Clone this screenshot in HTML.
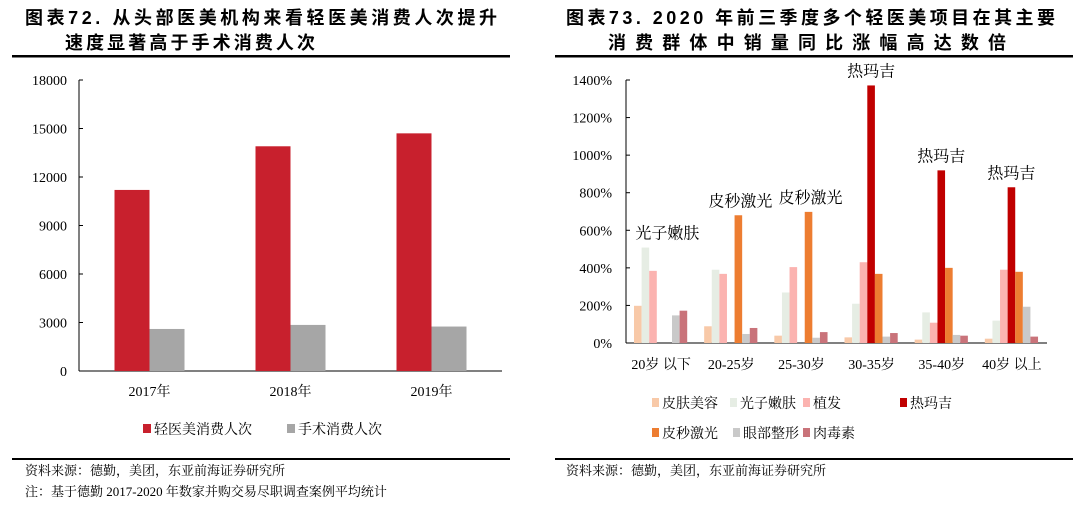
<!DOCTYPE html>
<html><head><meta charset="utf-8"><style>
body{margin:0;background:#fff;width:1080px;height:505px;overflow:hidden;font-family:"Liberation Serif","Noto Serif CJK SC",serif;}
svg{display:block}
.t{font-family:"Liberation Sans","Noto Sans CJK SC",sans-serif;font-weight:bold;font-size:18px;fill:#000}
.s{font-size:13px;fill:#000;font-family:"Liberation Serif","Noto Serif CJK SC",serif}
</style></head><body>
<svg id="svg" width="1080" height="505">
<g>
<text class="t" x="25" y="24" textLength="472" lengthAdjust="spacing">图表72. 从头部医美机构来看轻医美消费人次提升</text>
<text class="t" x="65" y="49" textLength="250" lengthAdjust="spacing">速度显著高于手术消费人次</text>
</g>
<rect x="12" y="55" width="498" height="2.5" fill="#000"/>
<g>
<text class="t" x="566" y="24" textLength="489" lengthAdjust="spacing">图表73. 2020 年前三季度多个轻医美项目在其主要</text>
<text class="t" x="608" y="49" textLength="398" lengthAdjust="spacing">消费群体中销量同比涨幅高达数倍</text>
</g>
<rect x="555" y="55" width="518" height="2.5" fill="#000"/>
<g id="left"></g>
<g id="right"></g>
<rect x="12" y="458" width="498" height="2" fill="#000"/>
<rect x="555" y="458" width="518" height="2" fill="#000"/>
<text class="s" x="25" y="475">资料来源：德勤，美团，东亚前海证券研究所</text>
<text class="s" x="25" y="496">注：基于德勤 2017-2020 年数家并购交易尽职调查案例平均统计</text>
<text class="s" x="566" y="475">资料来源：德勤，美团，东亚前海证券研究所</text>
</svg>
<script>
const leftCats=["2017年","2018年","2019年"];
const lightVals=[11200,13900,14700];
const surgVals=[2600,2850,2750];
const leftTicks=[0,3000,6000,9000,12000,15000,18000];

const rightCats=["20岁 以下","20-25岁","25-30岁","30-35岁","35-40岁","40岁 以上"];
const seriesNames=["皮肤美容","光子嫩肤","植发","热玛吉","皮秒激光","眼部整形","肉毒素"];
const sSkin=[198,89,39,30,18,23];
const sPhoto=[508,390,269,209,163,119];
const sHair=[384,368,404,430,108,390];
const sThermage=[0,0,0,1371,919,829];
const sPico=[0,680,698,368,400,379];
const sEye=[147,48,28,34,43,193];
const sBotox=[172,80,58,53,39,34];
const rightTicks=[0,200,400,600,800,1000,1200,1400];
const annoLabels=["光子嫩肤","皮秒激光","皮秒激光","热玛吉","热玛吉","热玛吉"];

const NS="http://www.w3.org/2000/svg";
function mk(p,tag,a,txt){const e=document.createElementNS(NS,tag);for(const k in a)e.setAttribute(k,a[k]);if(txt!==undefined)e.textContent=txt;p.appendChild(e);return e;}

// left chart
const L=document.getElementById('left');
const lx0=79,lx1=502,ly0=371,ly1=80,lmax=18000;
const ly=v=>ly0-(v/lmax)*(ly0-ly1);
const lband=(lx1-lx0)/leftCats.length;
const lcx=i=>lx0+lband*(i+0.5);
let ax=mk(L,'line',{x1:lx0,y1:ly1,x2:lx0,y2:ly0,stroke:'#000','stroke-width':1});

ax=mk(L,'line',{x1:lx0,y1:ly0,x2:lx1,y2:ly0,stroke:'#000','stroke-width':1});

leftTicks.forEach(v=>{
 const tk=mk(L,'line',{x1:lx0,y1:ly(v),x2:lx0+4,y2:ly(v),stroke:'#000'});
 
 const t=mk(L,'text',{x:lx0-12,y:ly(v)+5,'text-anchor':'end',class:'s',style:'font-size:14px'},String(v));
 
});
leftCats.forEach((c,i)=>{
 const bw=35;
 const r=mk(L,'rect',{x:lcx(i)-bw,y:ly(lightVals[i]),width:bw,height:ly0-ly(lightVals[i]),fill:'#c8202d'});
 
 const g=mk(L,'rect',{x:lcx(i),y:ly(surgVals[i]),width:bw,height:ly0-ly(surgVals[i]),fill:'#a6a6a6'});
 
 const t=mk(L,'text',{x:lcx(i),y:396,'text-anchor':'middle',class:'s',style:'font-size:14px'},c);
 
});
[["轻医美消费人次","#c8202d",143],["手术消费人次","#a6a6a6",287]].forEach(([n,c,x])=>{
 const g=mk(L,'g',{});
 
 mk(g,'rect',{x:x,y:424,width:8,height:9,fill:c});
 mk(g,'text',{x:x+11,y:434,class:'s',style:'font-size:14px'},n);
});

// right chart
const R=document.getElementById('right');
const rx0=626,rx1=1047,ry0=343,ry1=80,rmax=1400;
const ry=v=>ry0-(v/rmax)*(ry0-ry1);
const rband=(rx1-rx0)/rightCats.length;
const colors=["#f8c9a8","#e6ede4","#fbb3b0","#c00000","#ed7d31","#c9c9c9","#c9737a"];
const series=[sSkin,sPhoto,sHair,sThermage,sPico,sEye,sBotox];
ax=mk(R,'line',{x1:rx0,y1:ry1,x2:rx0,y2:ry0,stroke:'#000'});

ax=mk(R,'line',{x1:rx0,y1:ry0,x2:rx1,y2:ry0,stroke:'#000'});

rightTicks.forEach(v=>{
 const tk=mk(R,'line',{x1:rx0,y1:ry(v),x2:rx0+4,y2:ry(v),stroke:'#000'});
 
 const t=mk(R,'text',{x:rx0-14,y:ry(v)+5,'text-anchor':'end',class:'s',style:'font-size:14px'},v+'%');
 
});
const bw=7.6;
const annoShift=[22,2,2,0,0,0];
rightCats.forEach((c,i)=>{
 const gx=rx0+rband*i+8;
 series.forEach((s,j)=>{
  if(s[i]<=0)return;
  const r=mk(R,'rect',{x:gx+j*bw,y:ry(s[i]),width:bw,height:ry0-ry(s[i]),fill:colors[j]});
  
 });
 const t=mk(R,'text',{x:rx0+rband*(i+0.5),y:369,'text-anchor':'middle',class:'s',style:'font-size:14px'},c);
 
 let mj=0;series.forEach((s,j)=>{if(s[i]>series[mj][i])mj=j;});
 const ax2=gx+mj*bw+bw/2+annoShift[i];
 const a=mk(R,'text',{x:ax2,y:ry(series[mj][i])-9,'text-anchor':'middle',class:'s',style:'font-size:16px'},annoLabels[i]);
 
});
const legPos=[[652,404],[730,404],[803,404],[900,404],[652,434],[733,434],[803,434]];
seriesNames.forEach((n,j)=>{
 const g=mk(R,'g',{});
 
 mk(g,'rect',{x:legPos[j][0],y:legPos[j][1]-6,width:7,height:9,fill:colors[j]});
 mk(g,'text',{x:legPos[j][0]+10,y:legPos[j][1]+4,class:'s',style:'font-size:14px'},n);
});
</script>
</body></html>
